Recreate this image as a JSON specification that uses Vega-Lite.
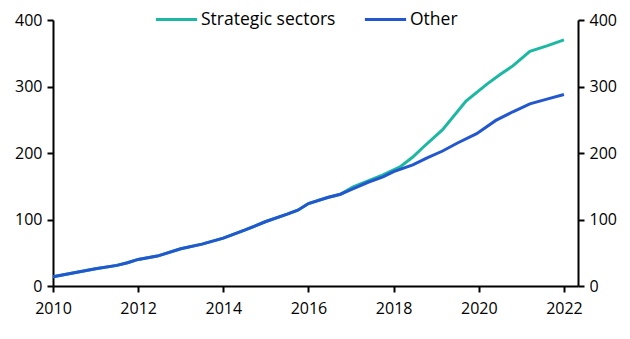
{
  "$schema": "https://vega.github.io/schema/vega-lite/v6.json",
  "width": 525,
  "height": 266,
  "autosize": {"type": "none"},
  "padding": {"left": 53, "top": 20, "right": 52, "bottom": 53},
  "config": {
    "view": {"stroke": null},
    "font": "Open Sans",
    "axis": {
      "domainColor": "black",
      "domainWidth": 2,
      "tickColor": "black",
      "tickWidth": 2,
      "tickSize": 6,
      "labelFont": "Open Sans",
      "labelFontSize": 16,
      "labelColor": "black",
      "labelPadding": 5,
      "grid": false,
      "title": null
    }
  },
  "data": {
    "values": [
      {"year": 2010.0, "value": 14, "series": "Other"},
      {"year": 2010.5, "value": 20, "series": "Other"},
      {"year": 2011.0, "value": 26, "series": "Other"},
      {"year": 2011.5, "value": 31, "series": "Other"},
      {"year": 2011.75, "value": 35, "series": "Other"},
      {"year": 2012.0, "value": 40, "series": "Other"},
      {"year": 2012.45, "value": 45, "series": "Other"},
      {"year": 2013.0, "value": 56, "series": "Other"},
      {"year": 2013.5, "value": 63, "series": "Other"},
      {"year": 2014.0, "value": 72, "series": "Other"},
      {"year": 2014.5, "value": 84, "series": "Other"},
      {"year": 2015.0, "value": 97, "series": "Other"},
      {"year": 2015.5, "value": 108, "series": "Other"},
      {"year": 2015.75, "value": 114, "series": "Other"},
      {"year": 2016.0, "value": 124, "series": "Other"},
      {"year": 2016.45, "value": 133, "series": "Other"},
      {"year": 2016.75, "value": 138, "series": "Other"},
      {"year": 2017.0, "value": 145, "series": "Other"},
      {"year": 2017.4, "value": 156, "series": "Other"},
      {"year": 2017.75, "value": 164, "series": "Other"},
      {"year": 2018.0, "value": 172, "series": "Other"},
      {"year": 2018.45, "value": 182, "series": "Other"},
      {"year": 2018.8, "value": 193, "series": "Other"},
      {"year": 2019.15, "value": 203, "series": "Other"},
      {"year": 2019.5, "value": 215, "series": "Other"},
      {"year": 2019.95, "value": 229, "series": "Other"},
      {"year": 2020.4, "value": 249, "series": "Other"},
      {"year": 2020.8, "value": 262, "series": "Other"},
      {"year": 2021.2, "value": 274, "series": "Other"},
      {"year": 2021.6, "value": 281, "series": "Other"},
      {"year": 2022.0, "value": 288, "series": "Other"},
      {"year": 2010.0, "value": 14, "series": "Strategic sectors"},
      {"year": 2010.5, "value": 20, "series": "Strategic sectors"},
      {"year": 2011.0, "value": 26, "series": "Strategic sectors"},
      {"year": 2011.5, "value": 31, "series": "Strategic sectors"},
      {"year": 2011.75, "value": 35, "series": "Strategic sectors"},
      {"year": 2012.0, "value": 40, "series": "Strategic sectors"},
      {"year": 2012.45, "value": 45, "series": "Strategic sectors"},
      {"year": 2013.0, "value": 56, "series": "Strategic sectors"},
      {"year": 2013.5, "value": 63, "series": "Strategic sectors"},
      {"year": 2014.0, "value": 72, "series": "Strategic sectors"},
      {"year": 2014.5, "value": 84, "series": "Strategic sectors"},
      {"year": 2015.0, "value": 97, "series": "Strategic sectors"},
      {"year": 2015.5, "value": 108, "series": "Strategic sectors"},
      {"year": 2015.75, "value": 114, "series": "Strategic sectors"},
      {"year": 2016.0, "value": 124, "series": "Strategic sectors"},
      {"year": 2016.45, "value": 133, "series": "Strategic sectors"},
      {"year": 2016.75, "value": 138, "series": "Strategic sectors"},
      {"year": 2017.05, "value": 149, "series": "Strategic sectors"},
      {"year": 2017.4, "value": 158, "series": "Strategic sectors"},
      {"year": 2017.75, "value": 167, "series": "Strategic sectors"},
      {"year": 2018.15, "value": 179, "series": "Strategic sectors"},
      {"year": 2018.45, "value": 194, "series": "Strategic sectors"},
      {"year": 2018.7, "value": 209, "series": "Strategic sectors"},
      {"year": 2019.15, "value": 235, "series": "Strategic sectors"},
      {"year": 2019.7, "value": 278, "series": "Strategic sectors"},
      {"year": 2020.2, "value": 304, "series": "Strategic sectors"},
      {"year": 2020.5, "value": 318, "series": "Strategic sectors"},
      {"year": 2020.8, "value": 331, "series": "Strategic sectors"},
      {"year": 2021.2, "value": 353, "series": "Strategic sectors"},
      {"year": 2021.6, "value": 361, "series": "Strategic sectors"},
      {"year": 2022.0, "value": 370, "series": "Strategic sectors"}
    ]
  },
  "encoding": {
    "x": {
      "field": "year",
      "type": "quantitative",
      "scale": {"domain": [2010, 2022.33], "nice": false, "zero": false},
      "axis": {"values": [2010, 2012, 2014, 2016, 2018, 2020, 2022], "format": "d", "labelFlush": false, "labelPadding": 8}
    },
    "color": {
      "field": "series",
      "type": "nominal",
      "scale": {"domain": ["Strategic sectors", "Other"], "range": ["#1CB8A2", "#2257CF"]},
      "legend": {
        "title": null,
        "orient": "none",
        "legendX": 101,
        "legendY": -23,
        "direction": "horizontal",
        "symbolType": "stroke",
        "symbolSize": 1700,
        "symbolStrokeWidth": 3,
        "labelFont": "Open Sans",
        "labelFontSize": 17.5,
        "labelColor": "black",
        "labelOffset": 2,
        "columnPadding": 22
      }
    }
  },
  "layer": [
    {
      "transform": [{"filter": "datum.series == 'Strategic sectors'"}],
      "mark": {"type": "line", "strokeWidth": 3},
      "encoding": {
        "y": {
          "field": "value",
          "type": "quantitative",
          "scale": {"domain": [0, 400]},
          "axis": {"orient": "left", "values": [0, 100, 200, 300, 400]}
        }
      }
    },
    {
      "transform": [{"filter": "datum.series == 'Other'"}],
      "mark": {"type": "line", "strokeWidth": 3},
      "encoding": {
        "y": {
          "field": "value",
          "type": "quantitative",
          "scale": {"domain": [0, 400]},
          "axis": {"orient": "right", "values": [0, 100, 200, 300, 400]}
        }
      }
    }
  ],
  "resolve": {"axis": {"y": "independent"}}
}
